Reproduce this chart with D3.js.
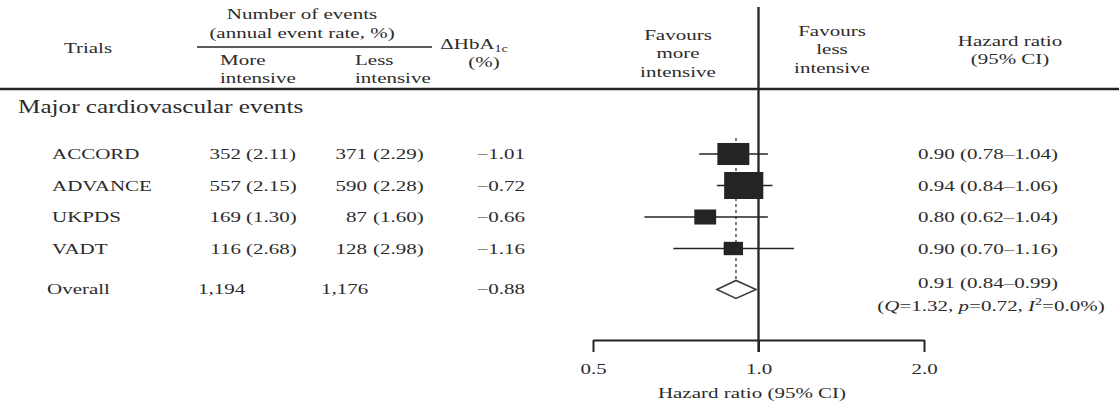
<!DOCTYPE html>
<html>
<head>
<meta charset="utf-8">
<script src="https://cdn.jsdelivr.net/npm/d3@7"></script>
<style>
  html, body { margin: 0; padding: 0; background: #fff; }
  svg { display: block; }
  text { font-family: "Liberation Serif", "Times New Roman", serif; fill: #2b2b2b; }
</style>
</head>
<body>
<svg id="chart" width="1119" height="409"></svg>
<script>
// ---- data -------------------------------------------------------------
const trials      = ["ACCORD", "ADVANCE", "UKPDS", "VADT"];
const eventsMore  = [352, 557, 169, 116];
const rateMore    = [2.11, 2.15, 1.30, 2.68];
const eventsLess  = [371, 590, 87, 128];
const rateLess    = [2.29, 2.28, 1.60, 2.98];
const deltaHbA1c  = [-1.01, -0.72, -0.66, -1.16];
const hazardRatio = [0.90, 0.94, 0.80, 0.90];
const ciLower     = [0.78, 0.84, 0.62, 0.70];
const ciUpper     = [1.04, 1.06, 1.04, 1.16];
const studyWeight = [30, 45, 14, 11];          // relative weight, %

const overallLabel      = "Overall";
const overallEventsMore = 1194;
const overallEventsLess = 1176;
const overallDelta      = -0.88;
const overallHR         = [0.91, 0.84, 0.99];  // estimate, lower, upper
const heterogeneity     = [1.32, 0.72, 0.0];   // Q, p, I²

const axisTicks = [0.5, 1.0, 2.0];

// ---- layout -----------------------------------------------------------
const svg = d3.select("#chart");
const SX = 1.4;            // horizontal stretch of the serif type
const FS = 15;             // body font size
const ink = "#242424";

const x = d3.scaleLog().domain([0.5, 2]).range([593, 924]);
const rowY = d3.scaleLinear().domain([0, 4]).range([154, 280]);
const overallY = rowY(4.3);
const boxH = d3.scaleSqrt().domain([0, 45]).range([0, 27]);
const boxAspect = 1.45;

const fmtCount = d3.format(",");
const fmt2 = d3.format(".2f");
const minus = v => (v < 0 ? "\u2212" : "") + fmt2(Math.abs(v));

function label(x0, y0, str, anchor = "start", size = FS) {
  return svg.append("text")
    .attr("transform", `translate(${x0},${y0}) scale(${SX},1)`)
    .attr("text-anchor", anchor)
    .style("font-size", size + "px")
    .text(str);
}

// ---- header -----------------------------------------------------------
label(88, 53, "Trials", "middle");
label(302, 19, "Number of events", "middle");
label(302, 38, "(annual event rate, %)", "middle");
svg.append("line").attr("x1", 197).attr("x2", 432).attr("y1", 47).attr("y2", 47)
  .attr("stroke", ink).attr("stroke-width", 1.3);
label(220, 65, "More");
label(220, 82.5, "intensive");
label(355, 65, "Less");
label(355, 82.5, "intensive");

const hb = label(474, 49, "\u0394HbA", "middle");
hb.append("tspan").attr("dy", 3).style("font-size", "10px").text("1c");
label(484, 67, "(%)", "middle");

label(678, 40, "Favours", "middle");
label(678, 58, "more", "middle");
label(678, 77, "intensive", "middle");
label(832, 36, "Favours", "middle");
label(832, 54, "less", "middle");
label(832, 73, "intensive", "middle");

label(1010, 46, "Hazard ratio", "middle");
label(1010, 64, "(95% CI)", "middle");

svg.append("line").attr("x1", 0).attr("x2", 1119).attr("y1", 89).attr("y2", 89)
  .attr("stroke", ink).attr("stroke-width", 2.4);

label(18, 113, "Major cardiovascular events", "start", 18);

// ---- table columns ----------------------------------------------------
trials.forEach((t, i) => {
  const y = rowY(i) + 5;
  label(52, y, t);
  label(241, y, String(eventsMore[i]), "end");
  label(246, y, `(${fmt2(rateMore[i])})`);
  label(367, y, String(eventsLess[i]), "end");
  label(373, y, `(${fmt2(rateLess[i])})`);
  label(525, y, minus(deltaHbA1c[i]), "end");
  label(988, y, `${fmt2(hazardRatio[i])} (${fmt2(ciLower[i])}\u2013${fmt2(ciUpper[i])})`, "middle");
});

label(47, overallY + 5, overallLabel);
label(198, overallY + 5, fmtCount(overallEventsMore));
label(321, overallY + 5, fmtCount(overallEventsLess));
label(525, overallY + 5, minus(overallDelta), "end");
label(988, overallY - 1, `${fmt2(overallHR[0])} (${fmt2(overallHR[1])}\u2013${fmt2(overallHR[2])})`, "middle");

const het = label(991, overallY + 22, "(", "middle");
het.append("tspan").style("font-style", "italic").text("Q");
het.append("tspan").text(`=${fmt2(heterogeneity[0])}, `);
het.append("tspan").style("font-style", "italic").text("p");
het.append("tspan").text(`=${fmt2(heterogeneity[1])}, `);
het.append("tspan").style("font-style", "italic").text("I");
het.append("tspan").attr("dy", -6).style("font-size", "10px").text("2");
het.append("tspan").attr("dy", 6).text(`=${d3.format(".1f")(heterogeneity[2])}%)`);

// ---- forest plot ------------------------------------------------------
// reference line at the pooled estimate
svg.append("line")
  .attr("x1", x(overallHR[0])).attr("x2", x(overallHR[0]))
  .attr("y1", 138).attr("y2", overallY + 9)
  .attr("stroke", ink).attr("stroke-width", 1.2)
  .attr("stroke-dasharray", "3,3");

// line of no effect
svg.append("line")
  .attr("x1", x(1)).attr("x2", x(1))
  .attr("y1", 7).attr("y2", 352)
  .attr("stroke", ink).attr("stroke-width", 2.3);

const rows = svg.append("g");
trials.forEach((t, i) => {
  const y = rowY(i);
  rows.append("line")
    .attr("x1", x(ciLower[i])).attr("x2", x(ciUpper[i]))
    .attr("y1", y).attr("y2", y)
    .attr("stroke", ink).attr("stroke-width", 1.6);
  const h = boxH(studyWeight[i]);
  const w = h * boxAspect;
  rows.append("rect")
    .attr("x", x(hazardRatio[i]) - w / 2).attr("y", y - h / 2)
    .attr("width", w).attr("height", h)
    .attr("fill", ink);
});

// pooled estimate diamond
const dh = 9;
svg.append("path")
  .attr("d", `M${x(overallHR[1])},${overallY} L${x(overallHR[0])},${overallY - dh} L${x(overallHR[2])},${overallY} L${x(overallHR[0])},${overallY + dh} Z`)
  .attr("fill", "#fff").attr("stroke", "#3a3a3a").attr("stroke-width", 1.5);

// ---- axis -------------------------------------------------------------
const axisG = svg.append("g")
  .attr("transform", "translate(0,340)")
  .style("color", ink)
  .call(d3.axisBottom(x).tickValues(axisTicks).tickFormat(d3.format(".1f"))
    .tickSize(12).tickSizeOuter(0).tickPadding(11));
axisG.select(".domain").attr("stroke-width", 2);
axisG.selectAll(".tick line").attr("stroke-width", 2);
axisG.selectAll(".tick text")
  .style("font-family", '"Liberation Serif", "Times New Roman", serif')
  .style("font-size", FS + "px")
  .attr("fill", "#2b2b2b")
  .attr("transform", `scale(${SX},1)`);

label(752, 398, "Hazard ratio (95% CI)", "middle");
</script>
</body>
</html>
